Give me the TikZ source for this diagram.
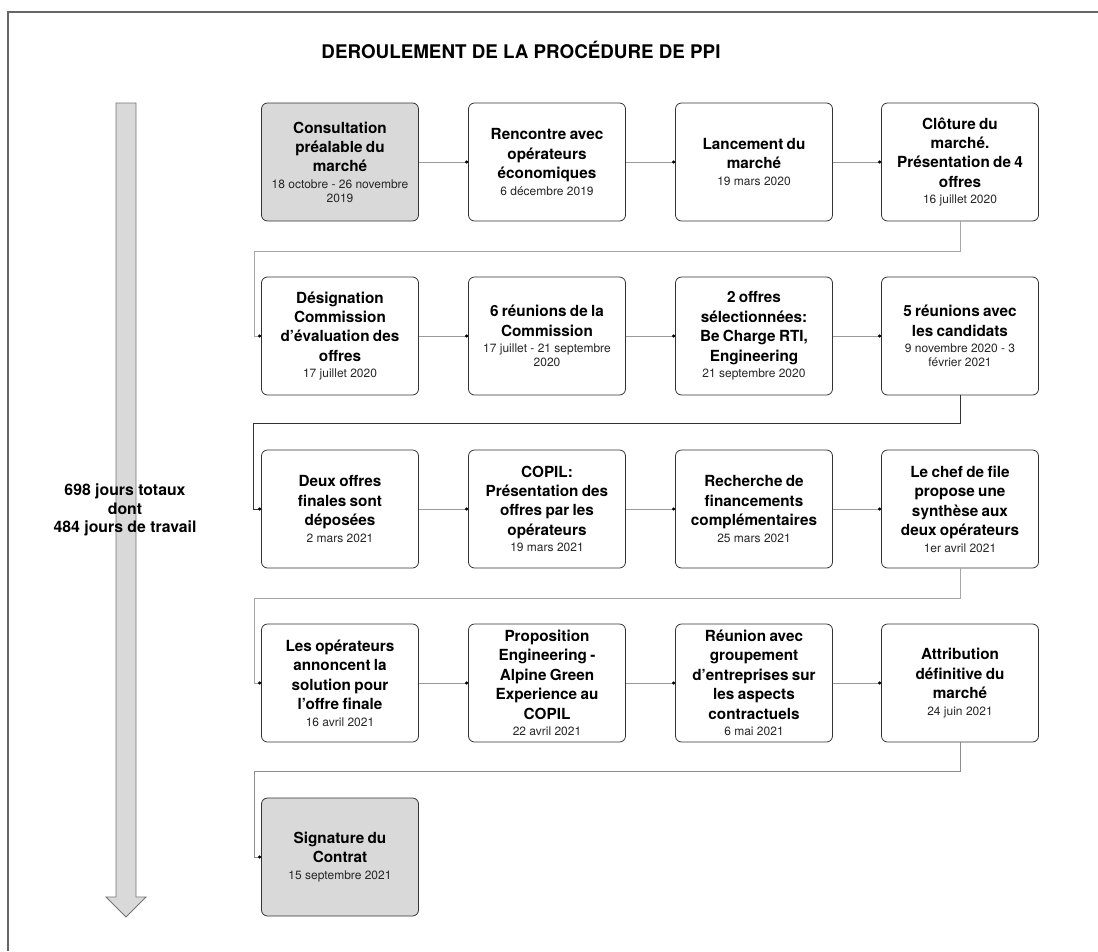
\documentclass[tikz,border=0pt]{standalone}
\usepackage{fontspec}
\setmainfont{TeX Gyre Heros}
\usepackage{xcolor}
\usepackage{tikz}
\usetikzlibrary{arrows.meta, positioning}
\definecolor{boxgray}{HTML}{D9D9D9}
\definecolor{linegray}{HTML}{9A9A9A}
\newcommand{\evt}[2]{%
  {\fontsize{15.3}{19.4}\selectfont\bfseries #1\par}\vspace{3pt}%
  {\fontsize{12}{13.6}\selectfont\color{black!85}#2\par}}
\tikzset{
  %% Step box of the procedure
  stepbox/.style={
    rectangle, rounded corners=6pt,
    draw=black!80, fill=#1,
    minimum width=157pt, minimum height=118pt,
    text width=152pt, align=center,
    inner sep=1pt, line width=0.8pt
  },
  stepbox/.default=white,
  %% Connector inside a row
  link/.style={-{Circle[length=3pt,black]},
               draw=linegray, line width=0.8pt},
  %% Connector to the next row
  wrap/.style={-{Circle[length=3pt,black]},
               draw=#1, line width=1pt},
  wrap/.default=black!35,
}
\begin{document}
\begin{tikzpicture}[x=1pt, y=-1pt]
  \useasboundingbox (0,0) rectangle (1098,951);
  %% frame
  \draw[black!60, line width=1.2pt] (1098,12) -- (8,12) -- (8,951);
  %% title
  \node[font=\fontsize{18.8}{23}\selectfont\bfseries] (title) at (521,50)
    {DEROULEMENT DE LA PROCÉDURE DE PPI};
  %% time arrow
  \draw[draw=black!55, fill=boxgray, line width=0.8pt]
    (116,103) -- (136,103) -- (136,897) -- (146,897) -- (126,917)
    -- (106,897) -- (116,897) -- cycle;
  \node[align=center, font=\fontsize{15.8}{18.5}\selectfont\bfseries] (days) at (125,510)
    {698 jours totaux\\dont\\484 jours de travail};

  %% row 1
  \node[stepbox=boxgray] (b1) at (340,162)
    {\evt{Consultation\\préalable du\\marché}{18 octobre - 26 novembre\\2019}};
  \node[stepbox] (b2) at (547,162)
    {\evt{Rencontre avec\\opérateurs\\économiques}{6 décembre 2019}};
  \node[stepbox] (b3) at (754,162)
    {\evt{Lancement du\\marché}{19 mars 2020}};
  \node[stepbox] (b4) at (960,162)
    {\evt{Clôture du\\marché.\\Présentation de 4\\offres}{16 juillet 2020}};
  %% row 2
  \node[stepbox] (b5) at (340,336)
    {\evt{Désignation\\Commission\\d’évaluation des\\offres}{17 juillet 2020}};
  \node[stepbox] (b6) at (547,336)
    {\evt{6 réunions de la\\Commission}{17 juillet - 21 septembre\\2020}};
  \node[stepbox] (b7) at (754,336)
    {\evt{2 offres\\sélectionnées:\\Be Charge RTI,\\Engineering}{21 septembre 2020}};
  \node[stepbox] (b8) at (960,336)
    {\evt{5 réunions avec\\les candidats}{9 novembre 2020 - 3\\février 2021}};
  %% row 3
  \node[stepbox] (b9) at (340,509)
    {\evt{Deux offres\\finales sont\\déposées}{2 mars 2021}};
  \node[stepbox] (b10) at (547,509)
    {\evt{COPIL:\\Présentation des\\offres par les\\opérateurs}{19 mars 2021}};
  \node[stepbox] (b11) at (754,509)
    {\evt{Recherche de\\financements\\complémentaires}{25 mars 2021}};
  \node[stepbox] (b12) at (960,509)
    {\evt{Le chef de file\\propose une\\synthèse aux\\deux opérateurs}{1er avril 2021}};
  %% row 4
  \node[stepbox] (b13) at (340,683)
    {\evt{Les opérateurs\\annoncent la\\solution pour\\l’offre finale}{16 avril 2021}};
  \node[stepbox] (b14) at (547,683)
    {\evt{Proposition\\Engineering -\\Alpine Green\\Experience au\\COPIL}{22 avril 2021}};
  \node[stepbox] (b15) at (754,683)
    {\evt{Réunion avec\\groupement\\d’entreprises sur\\les aspects\\contractuels}{6 mai 2021}};
  \node[stepbox] (b16) at (960,683)
    {\evt{Attribution\\définitive du\\marché}{24 juin 2021}};
  %% row 5
  \node[stepbox=boxgray] (b17) at (340,857)
    {\evt{Signature du\\Contrat}{15 septembre 2021}};

  %% connectors
  \foreach \a/\b in {1/2,2/3,3/4,5/6,6/7,7/8,9/10,10/11,11/12,13/14,14/15,15/16}
    \draw[link] (b\a) -- (b\b);
  \draw[wrap] (b4.south) -- ++(0,30) -| ([xshift=-7pt]b5.west) -- (b5.west);
  \draw[wrap=black!80] (b8.south) -- ++(0,28) -| ([xshift=-8pt]b9.west) -- (b9.west);
  \draw[wrap] (b12.south) -- ++(0,30) -| ([xshift=-7pt]b13.west) -- (b13.west);
  \draw[wrap=black!45] (b16.south) -- ++(0,29) -| ([xshift=-7pt]b17.west) -- (b17.west);
\end{tikzpicture}
\end{document}
